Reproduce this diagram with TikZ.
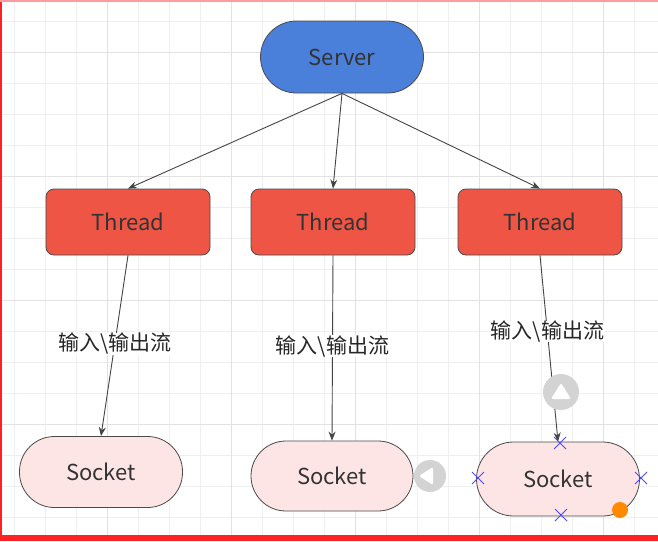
\documentclass[tikz,border=0pt]{standalone}
\usepackage{fontspec}
\newfontfamily\cjk{Noto Sans CJK SC}
\usetikzlibrary{arrows.meta}

\definecolor{srvblue}{HTML}{4A7FDA}
\definecolor{thrred}{HTML}{EF5545}
\definecolor{sockpink}{HTML}{FDE5E5}
\definecolor{boxline}{HTML}{4A4A4A}
\definecolor{linegray}{HTML}{444444}
\definecolor{txt}{HTML}{333333}
\definecolor{gridgray}{HTML}{EFEFEF}
\definecolor{gridmajor}{HTML}{E2E2E2}
\definecolor{bordred}{HTML}{FF2222}
\definecolor{handlegray}{HTML}{D3D3D3}
\definecolor{markblue}{HTML}{4A4AFF}
\definecolor{dotorange}{HTML}{FF8A00}

\begin{document}
\begin{tikzpicture}[x=1pt,y=-1pt,
  box/.style={draw=boxline,line width=0.8pt,text=txt,inner sep=0pt,
    font=\cjk\fontsize{22}{26}\selectfont},
  server/.style={box,fill=srvblue,rounded corners=36pt,minimum width=163pt,minimum height=72pt},
  thread/.style={box,fill=thrred,rounded corners=8pt,minimum width=164pt,minimum height=66pt},
  socket/.style={box,fill=sockpink,rounded corners=35pt,minimum width=163pt,minimum height=71pt},
  link/.style={draw=linegray,line width=0.9pt,-{Stealth[length=9pt,width=7pt]}},
  lbl/.style={fill=white,inner sep=0pt,text=black!85,font=\cjk\fontsize{21}{25}\selectfont},
  xmark/.style={draw=markblue,line width=0.8pt}]
\useasboundingbox (0,0) rectangle (658,541);
\fill[white] (0,0) rectangle (658,541);
% grid
\foreach \gx in {14,45,...,658} \draw[gridgray,line width=1pt] (\gx,0) -- (\gx,541);
\foreach \gy in {21,52,...,541} \draw[gridgray,line width=1pt] (0,\gy) -- (658,\gy);
\foreach \gx in {107,231,355,479,603} \draw[gridmajor,line width=1pt] (\gx,0) -- (\gx,541);
\foreach \gy in {52,176,300,424} \draw[gridmajor,line width=1pt] (0,\gy) -- (658,\gy);
% window edge
\fill[bordred] (0,0) rectangle (2,541);
\fill[bordred] (0,535) rectangle (658,541);
\fill[bordred!45] (0,0) rectangle (658,1.5);

\node[server] (srv) at (342,57) {Server};
\node[thread] (t1) at (128,222) {Thread};
\node[thread] (t2) at (333,222) {Thread};
\node[thread] (t3) at (540,222) {Thread};
\node[socket] (s1) at (101,472) {Socket};
\node[socket,minimum width=162pt,minimum height=70pt] (s2) at (332,476) {Socket};
\node[socket,minimum height=74pt,rounded corners=37pt] (s3) at (558,479) {Socket};

\draw[link] (srv.south) -- (t1.north);
\draw[link] (srv.south) -- (t2.north);
\draw[link] (srv.south) -- (t3.north);
\draw[link] (t1.south) -- node[lbl,pos=0.49] (l1) {输入\textbackslash 输出流} (s1.north);
\draw[link] (t2.south) -- node[lbl,pos=0.49] (l2) {输入\textbackslash 输出流} (s2.north);
\draw[link] (t3.south) -- node[lbl,pos=0.41] (l3) {输入\textbackslash 输出流} (s3.north);

% editor handles
\fill[handlegray] (561,392) circle (18);
\fill[white,rounded corners=2pt] (561,383) -- (571,399) -- (551,399) -- cycle;
\fill[handlegray] (430,476) circle (16);
\fill[white,rounded corners=2pt] (419,476) -- (433,467) -- (433,485) -- cycle;
\foreach \mx/\my in {560/443,478/478,641/478,561/515}
  \draw[xmark] (\mx-6,\my-6) -- (\mx+6,\my+6) (\mx-6,\my+6) -- (\mx+6,\my-6);
\fill[dotorange] (620,510) circle (8);
\end{tikzpicture}
\end{document}
